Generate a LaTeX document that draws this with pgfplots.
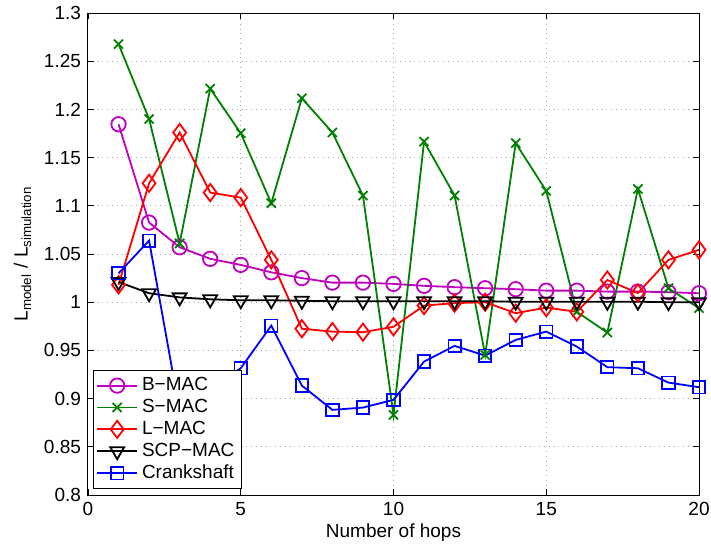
\documentclass[border=0pt]{standalone}
\usepackage{fontspec}
\setmainfont{Liberation Sans}
\setsansfont{Liberation Sans}
\usepackage{pgfplots}
\pgfplotsset{compat=1.18}
\usetikzlibrary{calc}
\definecolor{mmag}{rgb}{0.75,0,0.75}
\definecolor{mgreen}{rgb}{0,0.5,0}
\begin{document}
\begin{tikzpicture}
\begin{axis}[
  name=ax,
  scale only axis,
  width=305.5pt, height=241pt,
  xmin=0, xmax=20, ymin=0.8, ymax=1.3,
  xtick={0,5,10,15,20},
  ytick={0.8,0.85,0.9,0.95,1,1.05,1.1,1.15,1.2,1.25,1.3},
  yticklabels={0.8,0.85,0.9,0.95,1,1.05,1.1,1.15,1.2,1.25,1.3},
  /pgf/number format/assume math mode=true,
  tick align=inside,
  tick pos=both,
  major tick length=3pt,
  tick style={black, line width=0.4pt},
  grid=major,
  major grid style={dotted, gray!70, line width=0.5pt},
  axis line style={black, line width=0.5pt},
  tick label style={font=\fontsize{9.5}{11}\selectfont},
  label style={font=\fontsize{9.5}{11}\selectfont},
  xlabel={Number of hops},
  ylabel={L\textsubscript{model} / L\textsubscript{simulation}},
  xlabel style={yshift=3pt},
  ylabel style={yshift=-0.5pt},
  legend style={at={(0.008,0.012)}, anchor=south west, draw=black, line width=0.5pt,
    font=\fontsize{9.5}{11}\selectfont, inner sep=1.5pt, row sep=-1.2pt,
    legend cell align=left},
  legend image code/.code={
    \draw[mark repeat=2,mark phase=2] plot coordinates {(0cm,0cm) (0.35cm,0cm) (0.7cm,0cm)};
  },
]
\addplot[mmag, line width=0.9pt, mark=o, mark size=3.6pt, mark options={solid}] coordinates {
(1,1.1846)(2,1.0826)(3,1.057)(4,1.045)(5,1.0387)(6,1.031)(7,1.025)(8,1.0203)(9,1.0203)(10,1.019)
(11,1.017)(12,1.0156)(13,1.0145)(14,1.0135)(15,1.012)(16,1.012)(17,1.011)(18,1.011)(19,1.0104)(20,1.0093)};
\addlegendentry{B−MAC}
\addplot[mgreen, line width=0.9pt, mark=x, mark size=3.2pt] coordinates {
(1,1.2677)(2,1.190)(3,1.061)(4,1.2216)(5,1.1753)(6,1.1027)(7,1.2116)(8,1.176)(9,1.1106)(10,0.8831)
(11,1.1666)(12,1.1106)(13,0.9453)(14,1.165)(15,1.1155)(16,0.990)(17,0.9685)(18,1.1175)(19,1.0145)(20,0.9938)};
\addlegendentry{S−MAC}
\addplot[red, line width=0.9pt, mark=diamond, mark size=4.3pt] coordinates {
(1,1.018)(2,1.1234)(3,1.176)(4,1.1137)(5,1.1085)(6,1.0439)(7,0.9725)(8,0.9695)(9,0.9689)(10,0.9745)
(11,0.9965)(12,0.999)(13,1.0)(14,0.9886)(15,0.9944)(16,0.990)(17,1.023)(18,1.0095)(19,1.0439)(20,1.0543)};
\addlegendentry{L−MAC}
\addplot[black, line width=0.9pt, mark=triangle, mark size=4pt, mark options={rotate=180}] coordinates {
(1,1.021)(2,1.0093)(3,1.005)(4,1.003)(5,1.002)(6,1.002)(7,1.0015)(8,1.001)(9,1.001)(10,1.001)
(11,1.001)(12,1.001)(13,1.001)(14,1.0005)(15,1.0005)(16,1.0005)(17,1.0005)(18,1.0005)(19,1.0)(20,1.0)};
\addlegendentry{SCP−MAC}
\addplot[blue, line width=0.9pt, mark=square, mark size=3.1pt] coordinates {
(1,1.030)(2,1.0639)(3,0.887)(4,0.91)(5,0.9315)(6,0.9757)(7,0.9135)(8,0.8883)(9,0.8907)(10,0.8987)
(11,0.9384)(12,0.9547)(13,0.9446)(14,0.9609)(15,0.9695)(16,0.954)(17,0.9326)(18,0.9315)(19,0.9166)(20,0.9118)};
\addlegendentry{Crankshaft}
\end{axis}
\pgfresetboundingbox
\path ($(ax.south west)+(-44pt,-26pt)$) rectangle ($(ax.north east)+(6pt,6.5pt)$);
\end{tikzpicture}
\end{document}
